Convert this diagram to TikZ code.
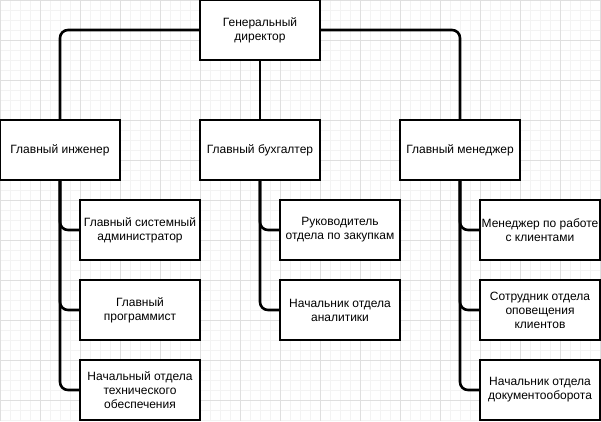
\documentclass[tikz,border=0pt]{standalone}
\usepackage{fontspec}
\setmainfont{Liberation Sans}
\definecolor{minorgrid}{HTML}{F3F3F3}
\definecolor{majorgrid}{HTML}{DFDFDF}
\begin{document}
\begin{tikzpicture}[x=1pt,y=-1pt,
  box/.style={draw=black,line width=1.1pt,fill=white,rectangle,minimum width=120pt,minimum height=60pt,inner sep=0pt,align=center,font=\fontsize{12}{14}\selectfont},
  link/.style={draw=black,line width=2.6pt,rounded corners=8pt}]
\useasboundingbox (0,0) rectangle (601,421);
\fill[white] (0,0) rectangle (601,421);
\foreach \x in {0,10,...,600} \draw[minorgrid,line width=0.8pt] (\x,0) -- (\x,421);
\foreach \y in {0,10,...,420} \draw[minorgrid,line width=0.8pt] (0,\y) -- (601,\y);
\foreach \x in {0,40,...,600} \draw[majorgrid,line width=0.8pt] (\x,0) -- (\x,421);
\foreach \y in {0,40,...,420} \draw[majorgrid,line width=0.8pt] (0,\y) -- (601,\y);

\node[box] (dir) at (260,30) {Генеральный\\директор};
\node[box] (eng) at (60,150) {Главный инженер};
\node[box] (acc) at (260,150) {Главный бухгалтер};
\node[box] (man) at (460,150) {Главный менеджер};

\node[box] (e1) at (140,230) {Главный системный\\администратор};
\node[box] (e2) at (140,310) {Главный\\программист};
\node[box] (e3) at (140,390) {Начальный отдела\\технического\\обеспечения};

\node[box] (a1) at (340,230) {Руководитель\\отдела по закупкам};
\node[box] (a2) at (340,310) {Начальник отдела\\аналитики};

\node[box] (m1) at (540,230) {Менеджер по работе\\с клиентами};
\node[box] (m2) at (540,310) {Сотрудник отдела\\оповещения\\клиентов};
\node[box] (m3) at (540,390) {Начальник отдела\\документооборота};

\begin{scope}[on background layer/.try]
\end{scope}
\draw[link] (dir.west) -| (eng.north);
\draw[link] (dir.east) -| (man.north);
\draw[link] (dir.south) -- (acc.north);
\foreach \c in {e1,e2,e3} \draw[link] (eng.south) |- (\c.west);
\foreach \c in {a1,a2} \draw[link] (acc.south) |- (\c.west);
\foreach \c in {m1,m2,m3} \draw[link] (man.south) |- (\c.west);
\end{tikzpicture}
\end{document}
